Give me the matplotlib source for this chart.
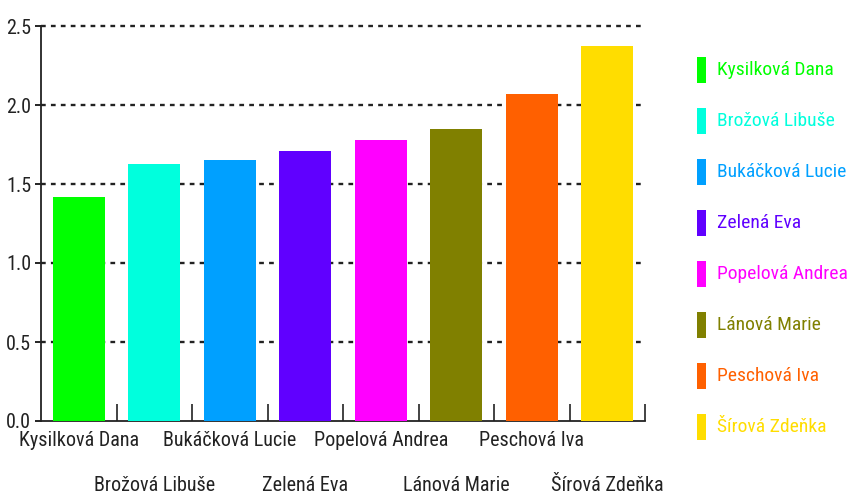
import matplotlib
matplotlib.use("Agg")
import matplotlib.pyplot as plt
from matplotlib.patches import Rectangle
from matplotlib import font_manager

names = ["Kysilková Dana", "Brožová Libuše", "Bukáčková Lucie", "Zelená Eva",
         "Popelová Andrea", "Lánová Marie", "Peschová Iva", "Šírová Zdeňka"]
values = [1.42, 1.625, 1.65, 1.71, 1.78, 1.845, 2.07, 2.375]
colors = ["#00FF00", "#00FFDD", "#00A0FF", "#6000FF",
          "#FF00FF", "#808000", "#FF6000", "#FFDD00"]
yticks = [0.0, 0.5, 1.0, 1.5, 2.0, 2.5]

avail = {f.name for f in font_manager.fontManager.ttflist}
fam = "DejaVu Sans"
for cand in ["Liberation Sans Narrow", "Arial Narrow", "Roboto Condensed",
             "PT Sans Narrow", "Archivo Narrow", "Open Sans Condensed"]:
    if cand in avail:
        fam = cand
        break
plt.rcParams['font.family'] = [fam, 'DejaVu Sans']
FS = 14.5

fig = plt.figure(figsize=(8.49, 4.98), dpi=100)
ax = fig.add_axes([41/849, 1-421/498, (645-41)/849, (421-26)/498])

x = list(range(len(names)))
ax.bar(x, values, width=0.69, color=colors, zorder=3)
ax.set_xlim(-0.5, len(names) - 0.5)
ax.set_ylim(0, 2.5)

for y in yticks[1:]:
    ax.axhline(y, color="#222222", lw=1.7, linestyle=(0, (2, 2.2)), zorder=1, clip_on=False)

ax.spines['top'].set_visible(False)
ax.spines['right'].set_visible(False)
for s in ('left', 'bottom'):
    ax.spines[s].set_color("#222222")
    ax.spines[s].set_linewidth(1.3)

ax.set_yticks(yticks)
ax.set_yticklabels([f"{v:.1f}" for v in yticks], fontsize=FS, color="#222222")
ax.tick_params(axis='y', direction='out', length=4, width=1.2, pad=3)

ax.set_xticks([i + 0.5 for i in x])
ax.set_xticklabels([])
ax.tick_params(axis='x', direction='in', length=12, width=1.2, color="#222222")
for i, n in enumerate(names):
    off = 0.025 if i % 2 == 0 else 0.14
    ax.text(i, -off, n, transform=ax.get_xaxis_transform(), ha='center', va='top',
            fontsize=FS, color="#222222")

# legend
for i, (n, c) in enumerate(zip(names, colors)):
    yc = 70 + i * 51
    fig.patches.append(Rectangle((697/849, 1 - (yc + 13)/498), 9/849, 26/498,
                                 transform=fig.transFigure, facecolor=c, edgecolor='none'))
    fig.text(717/849, 1 - yc/498, n, color=c, fontsize=14, va='center', ha='left')

fig.savefig("out.png", dpi=100)
